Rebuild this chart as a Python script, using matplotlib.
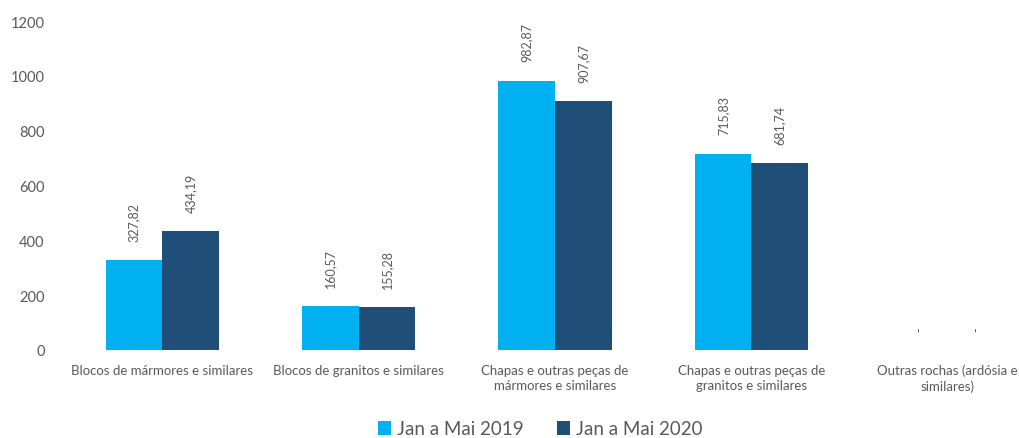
import matplotlib
matplotlib.use('Agg')
import matplotlib.pyplot as plt
import numpy as np

categorias = ['Blocos de mármores e similares',
              'Blocos de granitos e similares',
              'Chapas e outras peças de\nmármores e similares',
              'Chapas e outras peças de\ngranitos e similares',
              'Outras rochas (ardósia e\nsimilares)']
v2019 = [327.82, 160.57, 982.87, 715.83, 0]
v2020 = [434.19, 155.28, 907.67, 681.74, 0]
series = ['Jan a Mai 2019', 'Jan a Mai 2020']

cor19 = '#00B0F0'
cor20 = '#1F4E79'
cinza = '#595959'

plt.rcParams['font.family'] = ['Lato', 'DejaVu Sans']

fig = plt.figure(figsize=(10.2, 4.39), dpi=100)
ax = fig.add_axes([64/1020, 1-351/439, 982/1020, 329/439])

x = np.arange(len(categorias))
w = 0.288
b1 = ax.bar(x - w/2, v2019, w, color=cor19, label=series[0])
b2 = ax.bar(x + w/2, v2020, w, color=cor20, label=series[1])

def rotulo(v):
    if v == 0:
        return '-'
    return ('%.2f' % v).replace('.', ',')

for barras, vals in [(b1, v2019), (b2, v2020)]:
    for b, v in zip(barras, vals):
        ax.annotate(rotulo(v), (b.get_x() + b.get_width()/2, v),
                    xytext=(0, 14), textcoords='offset points',
                    rotation=90, ha='center', va='bottom',
                    fontsize=9, color=cinza)

ax.set_xlim(-0.5, len(categorias) - 0.5)
ax.set_ylim(0, 1200)
ax.set_yticks(range(0, 1201, 200))
ax.set_xticks(x)
ax.set_xticklabels(categorias, fontsize=9.5, color=cinza, linespacing=1.3)
ax.tick_params(axis='y', labelsize=10.5, colors=cinza, length=0, pad=14)
ax.tick_params(axis='x', length=0, pad=10)
for s in ax.spines.values():
    s.set_visible(False)

fig.legend(handles=[b1, b2], labels=series, loc='center',
           bbox_to_anchor=(540/1020, 1-430/439), ncol=2, frameon=False,
           fontsize=13.5, labelcolor=cinza, handlelength=0.7, handleheight=0.7,
           handletextpad=0.3, columnspacing=1.8)

fig.savefig('out.png', dpi=100)
